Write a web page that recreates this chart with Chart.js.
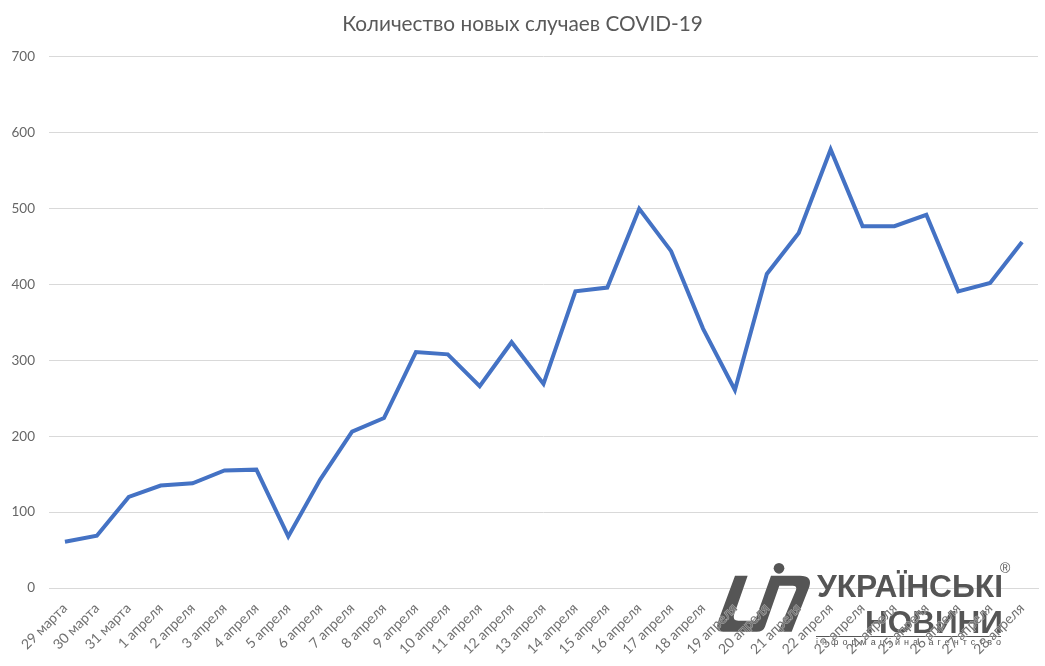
<!DOCTYPE html>
<html>
<head>
<meta charset="utf-8">
<script src="https://cdn.jsdelivr.net/npm/chart.js@4"></script>
<style>
    html, body { margin: 0; padding: 0; background: #fff; }
    canvas { display: block; }
</style>
</head>
<body>
<canvas id="covidChart" width="1045" height="666"></canvas>
<script>
const chartTitle = 'Количество новых случаев COVID-19';
const dayLabels = [
    '29 марта', '30 марта', '31 марта', '1 апреля', '2 апреля', '3 апреля', '4 апреля', '5 апреля',
    '6 апреля', '7 апреля', '8 апреля', '9 апреля', '10 апреля', '11 апреля', '12 апреля', '13 апреля',
    '14 апреля', '15 апреля', '16 апреля', '17 апреля', '18 апреля', '19 апреля', '20 апреля', '21 апреля',
    '22 апреля', '23 апреля', '24 апреля', '25 апреля', '26 апреля', '27 апреля', '28 апреля'
];
const newCases = [
    61, 69, 120, 135, 138, 155, 156, 68, 143, 206, 224, 311, 308, 266, 324, 269,
    391, 396, 500, 444, 342, 261, 414, 468, 578, 477, 477, 492, 391, 402, 456
];
const yTicks = [0, 100, 200, 300, 400, 500, 600, 700];

// Agency logo sits over the grid but under the date labels
const logoColor = '#555555';
const logoShape = 'M75,62 L113,62 L72,180 Q67,197 85,197 L135,197 L183,62 L270,62 Q308,62 298,95 ' +
    'L245,230 L205,230 L258,105 Q262,92 248,92 L208,92 L165,215 Q160,230 140,230 L40,230 Q15,230 24,200 Z';

function fitText(c, text, x, y, width, font) {
    c.save();
    c.font = font;
    const w = c.measureText(text).width;
    c.translate(x, y);
    c.scale(width / w, 1);
    c.fillText(text, 0, 0);
    c.restore();
}

const logoPlugin = {
    id: 'logo',
    beforeDatasetsDraw(chart) {
        const c = chart.ctx;
        c.save();
        c.fillStyle = logoColor;

        c.save();
        c.translate(710, 555);
        c.scale(1 / 3, 1 / 3);
        c.fill(new Path2D(logoShape));
        c.beginPath();
        c.arc(207, 40, 16, 0, Math.PI * 2);
        c.fill();
        c.restore();

        fitText(c, 'УКРАЇНСЬКІ', 817, 597, 186, 'bold 31px "Liberation Sans"');
        fitText(c, 'НОВИНИ', 865, 633, 138, 'bold 31px "Liberation Sans"');
        c.fillRect(816, 636, 185, 1);

        c.font = '9px "Liberation Sans"';
        const tagline = 'інформаційна агентство';
        c.letterSpacing = ((185 - c.measureText(tagline).width) / (tagline.length - 1)).toFixed(2) + 'px';
        c.fillText(tagline, 816, 645);
        c.letterSpacing = '0px';

        c.font = '14px "Liberation Sans"';
        c.fillText('®', 1000, 573);
        c.restore();
    }
};

const ctx = document.getElementById('covidChart').getContext('2d');
new Chart(ctx, {
    type: 'line',
    plugins: [logoPlugin],
    data: {
        labels: dayLabels,
        datasets: [{
            data: newCases,
            borderColor: '#4472c4',
            borderWidth: 4,
            pointRadius: 0,
            tension: 0,
            fill: false
        }]
    },
    options: {
        responsive: false,
        animation: false,
        layout: { padding: { top: 12, right: 7, left: 7, bottom: 0 } },
        plugins: {
            legend: { display: false },
            tooltip: { enabled: false },
            title: {
                display: true,
                text: chartTitle,
                color: '#595959',
                font: { family: 'Lato', size: 20.8, weight: 'normal' },
                padding: { top: 0, bottom: 20 }
            }
        },
        scales: {
            x: {
                offset: true,
                afterFit: scale => { scale.height = 78; },
                grid: { display: false },
                border: { color: '#d9d9d9', width: 1 },
                ticks: {
                    z: 1,
                    color: '#707070',
                    padding: 4,
                    textStrokeColor: 'rgba(255,255,255,0.5)',
                    textStrokeWidth: 1,
                    font: { family: 'Lato', size: 14 },
                    minRotation: 45,
                    maxRotation: 45,
                    autoSkip: false
                }
            },
            y: {
                min: 0,
                max: 700,
                afterFit: scale => { scale.width = 42; },
                afterBuildTicks: scale => { scale.ticks = yTicks.map(v => ({ value: v })); },
                grid: { color: '#d9d9d9', drawTicks: false },
                border: { display: false },
                ticks: {
                    color: '#666666',
                    padding: 14,
                    font: { family: 'Lato', size: 13.5 }
                }
            }
        }
    }
});
</script>
</body>
</html>
